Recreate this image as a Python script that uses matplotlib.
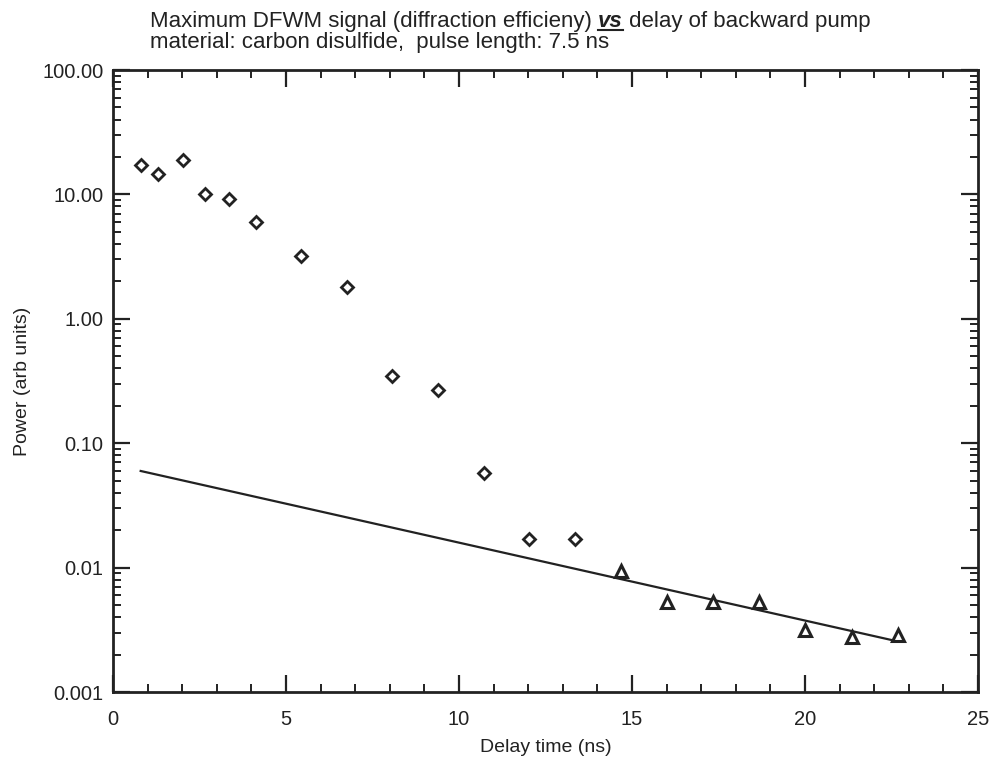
import matplotlib
matplotlib.use("Agg")
import matplotlib.pyplot as plt
from matplotlib.lines import Line2D
from matplotlib.ticker import FixedLocator, NullFormatter, LogLocator, FixedFormatter

plt.rcParams['font.family'] = ['Liberation Sans', 'DejaVu Sans']

# Data
diamond_x = [0.81, 1.31, 2.01, 2.67, 3.34, 4.12, 5.44, 6.75, 8.07, 9.40, 10.72, 12.03, 13.36]
diamond_y = [17.2, 14.6, 18.9, 10.0, 9.2, 5.97, 3.2, 1.79, 0.349, 0.266, 0.0575, 0.017, 0.017]
tri_x = [14.69, 16.02, 17.35, 18.68, 20.01, 21.35, 22.70]
tri_y = [0.0094, 0.00526, 0.00525, 0.00525, 0.00315, 0.00279, 0.00287]
fit_x = [0.8, 22.6]
fit_y = [0.0598, 0.00258]

ytick_vals = [0.001, 0.01, 0.1, 1, 10, 100]
ytick_labels = ["0.001", "0.01", "0.10", "1.00", "10.00", "100.00"]
xtick_vals = [0, 5, 10, 15, 20, 25]

ink = '#222222'

fig = plt.figure(figsize=(9.97, 7.64), dpi=100)
ax = fig.add_axes([113/997, 1-692/764, 865/997, 622/764])

ax.plot(fit_x, fit_y, color=ink, lw=1.6, zorder=2)
ax.plot(diamond_x, diamond_y, linestyle='none', marker='D', markersize=6,
        markerfacecolor='white', markeredgecolor=ink, markeredgewidth=2.0, zorder=3)
ax.plot(tri_x, tri_y, linestyle='none', marker='^', markersize=8,
        markerfacecolor='white', markeredgecolor=ink, markeredgewidth=2.2, zorder=3)

ax.set_yscale('log')
ax.set_xlim(0, 25)
ax.set_ylim(0.001, 100)

ax.xaxis.set_major_locator(FixedLocator(xtick_vals))
ax.xaxis.set_minor_locator(FixedLocator(range(0, 26)))
ax.yaxis.set_major_locator(FixedLocator(ytick_vals))
ax.yaxis.set_major_formatter(FixedFormatter(ytick_labels))
ax.yaxis.set_minor_locator(LogLocator(base=10, subs=range(2, 10)))
ax.yaxis.set_minor_formatter(NullFormatter())

ax.tick_params(which='both', direction='in', top=True, right=True, color=ink,
               labelsize=14.5, labelcolor=ink)
ax.tick_params(which='major', length=12, width=1.6)
ax.tick_params(which='minor', length=6, width=1.4)
ax.tick_params(axis='y', which='major', pad=7)
ax.tick_params(axis='x', which='major', pad=13)

for s in ax.spines.values():
    s.set_linewidth(2.0)
    s.set_color(ink)

ax.set_xlabel('Delay time (ns)', fontsize=14, color=ink, labelpad=7)
ax.set_ylabel('Power (arb units)', fontsize=14, color=ink, labelpad=8)

# Title (two lines, "vs" bold italic underlined)
fs = 16
t1 = fig.text(150/997, 1-27/764, 'Maximum DFWM signal (diffraction efficieny) ',
              fontsize=fs, color=ink, ha='left', va='baseline')
t2 = ax.annotate('vs', xy=(1, 0), xycoords=t1, fontsize=fs, color=ink,
                 fontweight='bold', fontstyle='italic', va='bottom', ha='left',
                 annotation_clip=False)
t3 = ax.annotate(' delay of backward pump', xy=(1, 0), xycoords=t2, fontsize=fs,
                 color=ink, va='bottom', ha='left', annotation_clip=False)
fig.text(150/997, 1-48/764, 'material: carbon disulfide,  pulse length: 7.5 ns',
         fontsize=fs, color=ink, ha='left', va='baseline')

fig.canvas.draw()
bb = t2.get_window_extent()
ybase = 1 - 30/764
fig.add_artist(Line2D([bb.x0/997, bb.x1/997], [ybase, ybase], transform=fig.transFigure,
                      color=ink, lw=1.5))

fig.savefig('out.png', dpi=100)
